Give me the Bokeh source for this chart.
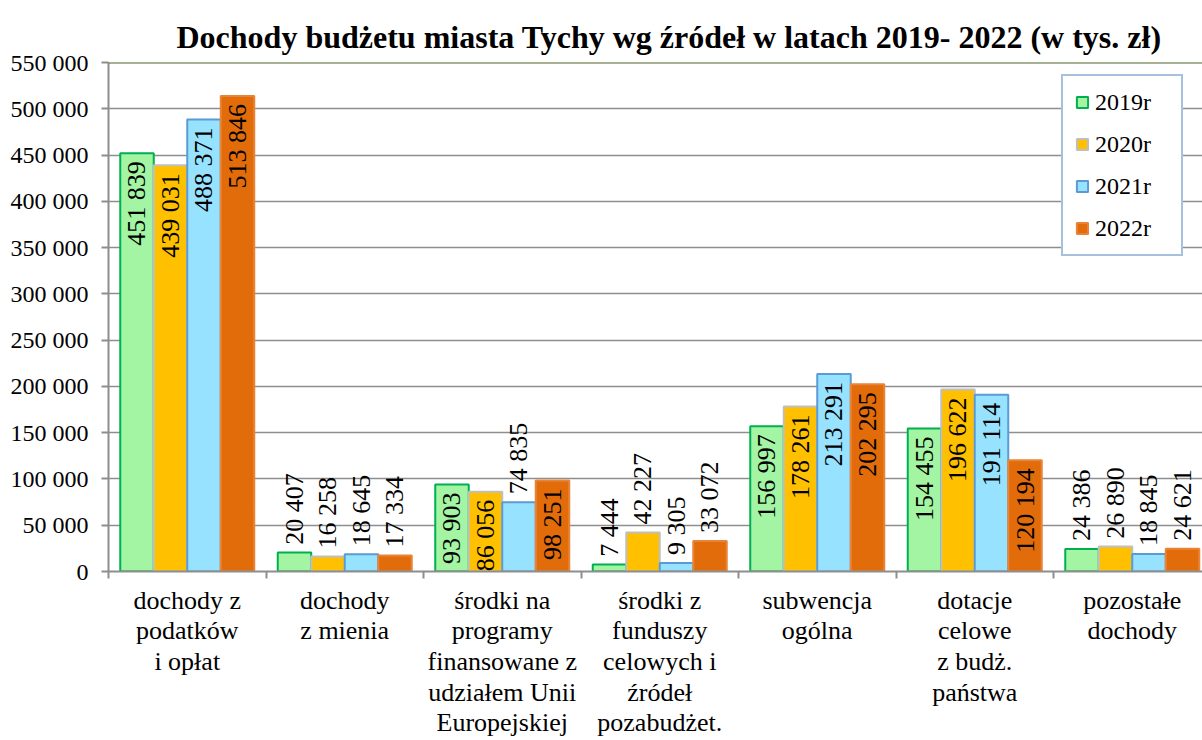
import math
from bokeh.plotting import figure
from bokeh.models import (ColumnDataSource, Range1d, FixedTicker, LabelSet, Span,
                          Legend, LegendItem, Title)
from bokeh.embed import file_html
from bokeh.resources import INLINE

categories = [
    "dochody z\npodatków\ni opłat",
    "dochody\nz mienia",
    "środki na\nprogramy\nfinansowane z\nudziałem Unii\nEuropejskiej",
    "środki z\nfunduszy\ncelowych i\nźródeł\npozabudżet.",
    "subwencja\nogólna",
    "dotacje\ncelowe\nz budż.\npaństwa",
    "pozostałe\ndochody",
]
years = ["2019r", "2020r", "2021r", "2022r"]
v2019 = [451839, 20407, 93903, 7444, 156997, 154455, 24386]
v2020 = [439031, 16258, 86056, 42227, 178261, 196622, 26890]
v2021 = [488371, 18645, 74835, 9305, 213291, 191114, 18845]
v2022 = [513846, 17334, 98251, 33072, 202295, 120194, 24621]
series = [v2019, v2020, v2021, v2022]
y_ticks = list(range(0, 550001, 50000))

fills = ["#A3F5A3", "#FFC000", "#97E3FF", "#E36C0A"]
borders = ["#00B050", "#BFBFBF", "#5B9BD5", "#E8843A"]
FONT = "Liberation Serif"

p = figure(width=1202, height=740, output_backend="svg", toolbar_location=None,
           x_range=Range1d(0, 1094 / 157.5), y_range=Range1d(0, 550000),
           min_border_left=108, min_border_right=0, min_border_top=62,
           min_border_bottom=168)
p.outline_line_color = None
p.xgrid.grid_line_color = None
p.ygrid.ticker = FixedTicker(ticks=y_ticks)
p.ygrid.grid_line_color = "#8E8E8E"
p.ygrid.grid_line_width = 1.6

bar_w = 0.2127
offsets = [-1.5 * bar_w, -0.5 * bar_w, 0.5 * bar_w, 1.5 * bar_w]
n = len(categories)
renderers = []
for k, vals in enumerate(series):
    xs = [i + 0.5 + offsets[k] for i in range(n)]
    labels = [f"{v:,}".replace(",", " ") for v in vals]
    src = ColumnDataSource(dict(x=xs, top=vals, label=labels))
    r = p.vbar(x="x", top="top", width=bar_w, bottom=0, source=src,
               fill_color=fills[k], line_color=borders[k], line_width=2)
    renderers.append(r)
    ins = [j for j, v in enumerate(vals) if v >= 80000]
    outs = [j for j, v in enumerate(vals) if v < 80000]
    src_in = ColumnDataSource(dict(x=[xs[j] for j in ins], y=[vals[j] for j in ins],
                                   label=[labels[j] for j in ins]))
    src_out = ColumnDataSource(dict(x=[xs[j] for j in outs], y=[vals[j] for j in outs],
                                    label=[labels[j] for j in outs]))
    p.add_layout(LabelSet(x="x", y="y", text="label", source=src_in, angle=math.pi / 2,
                          text_align="right", text_baseline="middle", y_offset=-8,
                          text_font=FONT, text_font_size="26px", text_color="black"))
    p.add_layout(LabelSet(x="x", y="y", text="label", source=src_out, angle=math.pi / 2,
                          text_align="left", text_baseline="middle", y_offset=8,
                          text_font=FONT, text_font_size="26px", text_color="black"))

p.add_layout(Span(location=550000, dimension="width", line_color="#4F6228", line_width=2))

# y axis
p.yaxis.ticker = FixedTicker(ticks=y_ticks)
p.yaxis.major_label_overrides = {t: f"{t:,}".replace(",", " ") for t in y_ticks}
p.yaxis.major_label_text_font = FONT
p.yaxis.major_label_text_font_size = "24px"
p.yaxis.major_label_text_color = "black"
p.yaxis.axis_line_color = "#8E8E8E"
p.yaxis.axis_line_width = 2
p.yaxis.major_tick_line_color = "#8E8E8E"
p.yaxis.major_tick_line_width = 2
p.yaxis.major_tick_out = 7
p.yaxis.major_tick_in = 0
p.yaxis.minor_tick_line_color = None
p.yaxis.major_label_standoff = 13

# x axis
centers = [i + 0.5 for i in range(n)]
p.xaxis.ticker = FixedTicker(ticks=centers, minor_ticks=list(range(n + 1)))
p.xaxis.major_label_overrides = {c: categories[i] for i, c in enumerate(centers)}
p.xaxis.major_label_text_font = FONT
p.xaxis.major_label_text_font_size = "26px"
p.xaxis.major_label_text_line_height = 1.06
p.xaxis.major_label_text_color = "black"
p.xaxis.major_tick_line_color = None
p.xaxis.major_tick_out = 7
p.xaxis.major_tick_in = 0
p.xaxis.minor_tick_line_color = "#8E8E8E"
p.xaxis.minor_tick_line_width = 2
p.xaxis.minor_tick_out = 7
p.xaxis.minor_tick_in = 0
p.xaxis.axis_line_color = "#8E8E8E"
p.xaxis.axis_line_width = 2
p.xaxis.major_label_standoff = 7

title = Title(text="Dochody budżetu miasta Tychy wg źródeł w latach 2019- 2022 (w tys. zł)",
              align="left", offset=68, text_font=FONT, text_font_size="32px",
              text_font_style="bold", text_color="black", standoff=15)
p.add_layout(title, "above")

legend = Legend(items=[LegendItem(label=years[k], renderers=[renderers[k]]) for k in range(4)],
                location=(953, 315), orientation="vertical",
                label_text_font=FONT, label_text_font_size="24px", label_text_color="black",
                glyph_width=14, glyph_height=14, label_standoff=6, label_width=74,
                label_height=28, spacing=14, padding=12, margin=0,
                border_line_color="#4F81BD", border_line_width=2,
                background_fill_color="white", background_fill_alpha=1)
p.add_layout(legend)

open("out.html", "w").write(file_html(p, INLINE))
